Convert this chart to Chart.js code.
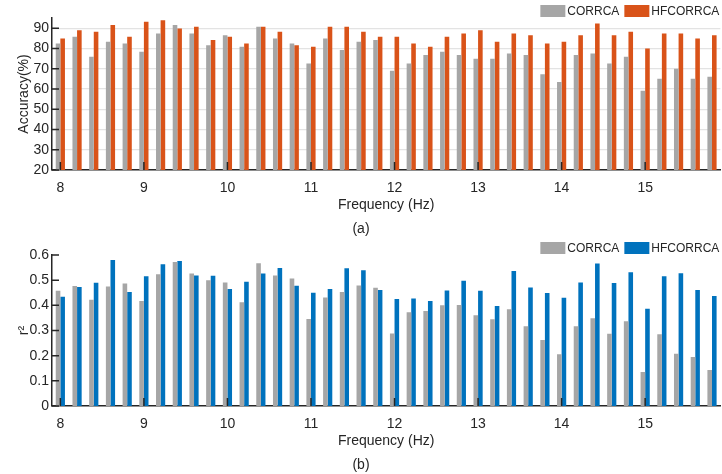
<!DOCTYPE html>
<html>
<head>
<meta charset="utf-8">
<script src="https://cdn.jsdelivr.net/npm/chart.js@4"></script>
<style>
  body { margin: 0; background: #fff; overflow: hidden; }
  .box { position: absolute; left: 0; width: 722px; height: 240px; }
</style>
</head>
<body>
<div class="box" style="top:0"><canvas id="accChart"></canvas></div>
<div class="box" style="top:236px"><canvas id="r2Chart"></canvas></div>
<script>
// stimulus frequencies (Hz)
const freqs = [8, 8.2, 8.4, 8.6, 8.8, 9, 9.2, 9.4, 9.6, 9.8,
  10, 10.2, 10.4, 10.6, 10.8, 11, 11.2, 11.4, 11.6, 11.8,
  12, 12.2, 12.4, 12.6, 12.8, 13, 13.2, 13.4, 13.6, 13.8,
  14, 14.2, 14.4, 14.6, 14.8, 15, 15.2, 15.4, 15.6, 15.8];

// (a) accuracy in %
const accCorrca = [82.4, 85.7, 75.9, 83.3, 82.4, 78.3, 87.4, 91.5, 87.4, 81.6,
  86.5, 80.8, 90.7, 84.9, 82.4, 72.6, 84.9, 79.2, 83.3, 84.1,
  69.0, 72.6, 76.7, 78.3, 76.7, 74.9, 74.9, 77.5, 76.7, 67.3,
  63.4, 76.7, 77.5, 72.6, 75.9, 59.1, 65.0, 70.0, 65.0, 66.0];
const accHfcorrca = [84.9, 89.0, 88.2, 91.5, 85.7, 93.1, 93.9, 89.8, 90.7, 84.1,
  85.7, 82.4, 90.7, 88.2, 81.6, 80.8, 90.7, 90.7, 88.2, 85.7,
  85.7, 82.4, 80.8, 85.7, 87.4, 89.0, 83.3, 87.4, 86.5, 82.4,
  83.3, 86.5, 92.3, 86.5, 88.2, 80.0, 87.4, 87.4, 84.9, 86.5];

// (b) r^2
const r2Corrca = [0.458, 0.477, 0.422, 0.475, 0.487, 0.417, 0.524, 0.572, 0.526, 0.500,
  0.491, 0.412, 0.567, 0.519, 0.507, 0.346, 0.431, 0.453, 0.479, 0.470,
  0.288, 0.373, 0.377, 0.400, 0.401, 0.361, 0.345, 0.384, 0.317, 0.262,
  0.206, 0.317, 0.349, 0.287, 0.337, 0.135, 0.285, 0.208, 0.195, 0.143];
const r2Hfcorrca = [0.434, 0.473, 0.490, 0.580, 0.453, 0.516, 0.563, 0.576, 0.519, 0.518,
  0.465, 0.494, 0.526, 0.548, 0.478, 0.450, 0.465, 0.547, 0.539, 0.461,
  0.425, 0.427, 0.417, 0.459, 0.498, 0.458, 0.397, 0.536, 0.471, 0.449,
  0.430, 0.491, 0.566, 0.489, 0.531, 0.386, 0.516, 0.527, 0.461, 0.437];

const accTicks = [20, 30, 40, 50, 60, 70, 80, 90];
const r2Ticks = [0, 0.1, 0.2, 0.3, 0.4, 0.5, 0.6];

const GRAY = '#a6a6a6';
const ORANGE = '#d95319';
const BLUE = '#0072bd';
const INK = '#262626';
const FONT = '"Liberation Sans", Arial, sans-serif';

Chart.defaults.font.family = FONT;
Chart.defaults.font.size = 14;
Chart.defaults.color = INK;

// matlab style ticks pointing into the plot
const innerTicks = {
  id: 'innerTicks',
  afterDatasetsDraw(chart) {
    const { ctx, chartArea, scales } = chart;
    ctx.save();
    ctx.strokeStyle = INK;
    ctx.lineWidth = 1.5;
    ctx.beginPath();
    freqs.forEach((f, i) => {
      if (!Number.isInteger(f)) return;
      const x = scales.x.getPixelForValue(i);
      ctx.moveTo(x, chartArea.bottom);
      ctx.lineTo(x, chartArea.bottom - 8);
    });
    scales.y.ticks.forEach(t => {
      const y = scales.y.getPixelForValue(t.value);
      ctx.moveTo(chartArea.left, y);
      ctx.lineTo(chartArea.left + 7, y);
    });
    ctx.stroke();
    ctx.restore();
  }
};

// legend sitting just above the top right of the axes
const cornerLegend = {
  id: 'cornerLegend',
  afterDraw(chart) {
    const { ctx, chartArea } = chart;
    ctx.save();
    ctx.font = '12px ' + FONT;
    ctx.textBaseline = 'middle';
    const items = chart.data.datasets;
    let total = 0;
    items.forEach((d, i) => { total += 25 + 2 + ctx.measureText(d.label).width + (i ? 0 : 5); });
    let x = chartArea.right - 1 - total;
    const top = chartArea.top - 13;
    items.forEach(d => {
      ctx.fillStyle = d.backgroundColor;
      ctx.fillRect(x, top, 25, 12);
      x += 27;
      ctx.fillStyle = INK;
      ctx.fillText(d.label, x, top + 6.5);
      x += ctx.measureText(d.label).width + 5;
    });
    ctx.restore();
  }
};

function makeChart(id, dataA, dataB, colorB, yMin, yMax, yTicks, yTitle, caption, showGrid, topPad) {
  return new Chart(document.getElementById(id), {
    type: 'bar',
    data: {
      labels: freqs,
      datasets: [
        { label: 'CORRCA', data: dataA, backgroundColor: GRAY },
        { label: 'HFCORRCA', data: dataB, backgroundColor: colorB }
      ]
    },
    options: {
      responsive: true,
      maintainAspectRatio: false,
      animation: false,
      datasets: { bar: { barPercentage: 1, categoryPercentage: 0.55 } },
      layout: { padding: { left: 0, right: 0, top: topPad, bottom: 0 } },
      scales: {
        x: {
          afterFit: s => { s.height = 43.4; },
          grid: { display: false, drawTicks: false },
          border: { display: true, color: INK, width: 1.5 },
          ticks: {
            autoSkip: false,
            maxRotation: 0,
            padding: 10,
            callback: (v, i) => Number.isInteger(freqs[i]) ? String(freqs[i]) : ''
          },
          title: { display: true, text: 'Frequency (Hz)', padding: { top: 0, bottom: 0 } }
        },
        y: {
          min: yMin,
          max: yMax,
          afterBuildTicks: s => { s.ticks = yTicks.map(v => ({ value: v })); },
          afterFit: s => { s.width = 52; },
          grid: { display: showGrid, color: '#e3e3e3', lineWidth: 1.2, drawTicks: false },
          border: { display: true, color: INK, width: 1.5 },
          ticks: { padding: 3 },
          title: { display: true, text: yTitle, padding: { top: 16, bottom: 0 } }
        }
      },
      plugins: {
        legend: { display: false },
        title: {
          display: true,
          position: 'bottom',
          text: caption,
          font: { size: 14, weight: 'normal' },
          padding: { top: 7.7, bottom: 2.1 }
        },
        tooltip: { enabled: false }
      }
    },
    plugins: [innerTicks, cornerLegend]
  });
}

makeChart('accChart', accCorrca, accHfcorrca, ORANGE, 20, 95, accTicks, 'Accuracy(%)', '(a)', true, 18);
makeChart('r2Chart', r2Corrca, r2Hfcorrca, BLUE, 0, 0.6, r2Ticks, 'r²', '(b)', false, 19);
</script>
</body>
</html>
